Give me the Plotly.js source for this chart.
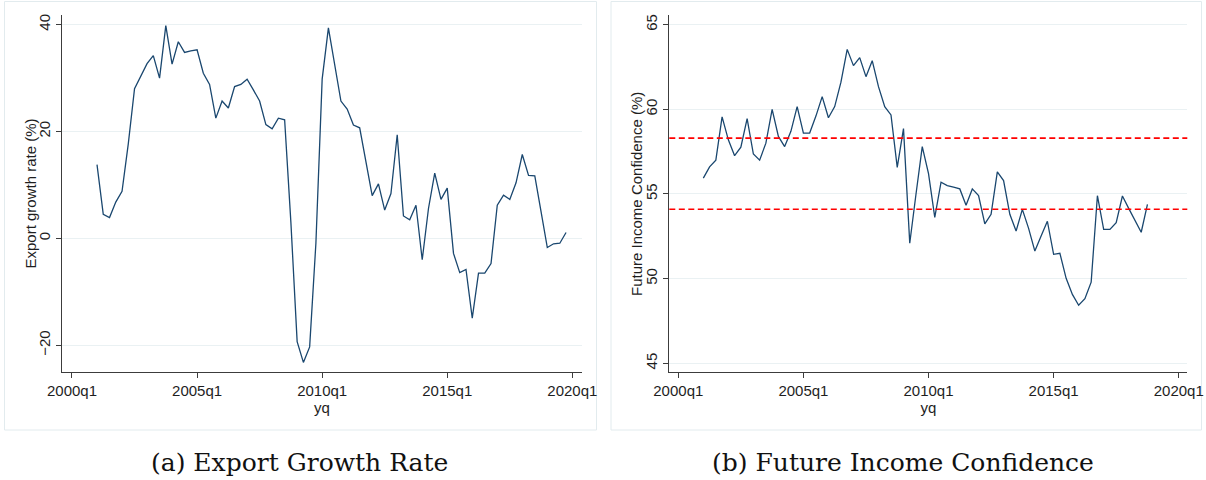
<!DOCTYPE html>
<html>
<head>
<meta charset="utf-8">
<script src="https://cdn.plot.ly/plotly-3.0.1.min.js"></script>
<style>html,body{margin:0;padding:0;background:#fff;}#chart{width:1206px;height:480px;}</style>
</head>
<body>
<div id="chart"></div>
<script>
// ---- Data ----
const exportQuarters = [
 "2001q1","2001q2","2001q3","2001q4","2002q1","2002q2","2002q3","2002q4",
 "2003q1","2003q2","2003q3","2003q4","2004q1","2004q2","2004q3","2004q4",
 "2005q1","2005q2","2005q3","2005q4","2006q1","2006q2","2006q3","2006q4",
 "2007q1","2007q2","2007q3","2007q4","2008q1","2008q2","2008q3","2008q4",
 "2009q1","2009q2","2009q3","2009q4","2010q1","2010q2","2010q3","2010q4",
 "2011q1","2011q2","2011q3","2011q4","2012q1","2012q2","2012q3","2012q4",
 "2013q1","2013q2","2013q3","2013q4","2014q1","2014q2","2014q3","2014q4",
 "2015q1","2015q2","2015q3","2015q4","2016q1","2016q2","2016q3","2016q4",
 "2017q1","2017q2","2017q3","2017q4","2018q1","2018q2","2018q3","2018q4",
 "2019q1","2019q2","2019q3","2019q4"
];
const exportGrowth = [
 13.8, 4.5, 3.9, 6.8, 8.8, 17.7, 28.0, 30.4,
 32.7, 34.2, 30.0, 39.8, 32.6, 36.8, 34.8, 35.1,
 35.3, 30.9, 28.8, 22.5, 25.7, 24.4, 28.4, 28.8,
 29.8, 27.8, 25.7, 21.3, 20.5, 22.5, 22.2, 3.0,
 -19.3, -23.2, -20.3, -0.9, 29.8, 39.4, 32.6, 25.7,
 24.2, 21.2, 20.7, 14.6, 8.0, 10.2, 5.3, 8.4,
 19.4, 4.2, 3.5, 6.2, -4.0, 5.6, 12.2, 7.3,
 9.4, -2.8, -6.4, -5.8, -14.9, -6.5, -6.5, -4.7,
 6.2, 8.1, 7.3, 10.4, 15.7, 11.8, 11.7, 5.0,
 -1.7, -1.0, -0.9, 1.1
];
const incomeQuarters = [
 "2001q1","2001q2","2001q3","2001q4","2002q1","2002q2","2002q3","2002q4",
 "2003q1","2003q2","2003q3","2003q4","2004q1","2004q2","2004q3","2004q4",
 "2005q1","2005q2","2005q3","2005q4","2006q1","2006q2","2006q3","2006q4",
 "2007q1","2007q2","2007q3","2007q4","2008q1","2008q2","2008q3","2008q4",
 "2009q1","2009q2","2009q3","2009q4","2010q1","2010q2","2010q3","2010q4",
 "2011q1","2011q2","2011q3","2011q4","2012q1","2012q2","2012q3","2012q4",
 "2013q1","2013q2","2013q3","2013q4","2014q1","2014q2","2014q3","2014q4",
 "2015q1","2015q2","2015q3","2015q4","2016q1","2016q2","2016q3","2016q4",
 "2017q1","2017q2","2017q3","2017q4","2018q1","2018q2","2018q3","2018q4"
];
const incomeConfidence = [
 55.94, 56.6, 57.0, 59.55, 58.2, 57.26, 57.76, 59.45,
 57.36, 57.0, 58.0, 60.0, 58.4, 57.8, 58.7, 60.16,
 58.6, 58.6, 59.6, 60.75, 59.5, 60.16, 61.6, 63.54,
 62.58, 63.05, 61.93, 62.87, 61.34, 60.16, 59.67, 56.57,
 58.86, 52.09, 55.0, 57.8, 56.2, 53.62, 55.7, 55.5,
 55.4, 55.3, 54.33, 55.3, 54.9, 53.23, 53.8, 56.3,
 55.79, 53.8, 52.81, 54.09, 52.97, 51.63, 52.52, 53.39,
 51.44, 51.5, 50.02, 49.07, 48.43, 48.82, 49.79, 54.9,
 52.91, 52.91, 53.31, 54.88, 54.15, 53.46, 52.74, 54.39
];
const incomeReferenceLines = [58.3, 54.1];
const xTickLabels = ["2000q1","2005q1","2010q1","2015q1","2020q1"];
const exportYTicks = [-20, 0, 20, 40];
const incomeYTicks = [45, 50, 55, 60, 65];
const captions = ["(a) Export Growth Rate", "(b) Future Income Confidence"];
const yTitles = ["Export growth rate (%)", "Future Income Confidence (%)"];
const xTitle = "yq";

// ---- Helpers ----
const qIndex = s => (parseInt(s.slice(0,4),10) - 2000) * 4 + parseInt(s.slice(5),10) - 1;
const W = 1206, H = 480;
const px = v => v / W;
const py = v => 1 - v / H;

const lineColor = "#1a476f";
const axisColor = "#3c3c3c";
const gridColor = "#eaf1f3";
const tickFont = {family: "Liberation Sans, Arial, sans-serif", size: 15, color: "#1e1e1e"};

const traces = [
 {x: exportQuarters.map(qIndex), y: exportGrowth, type: "scatter", mode: "lines",
  line: {color: lineColor, width: 1.3}, xaxis: "x", yaxis: "y", hoverinfo: "skip"},
 {x: incomeQuarters.map(qIndex), y: incomeConfidence, type: "scatter", mode: "lines",
  line: {color: lineColor, width: 1.3}, xaxis: "x2", yaxis: "y2", hoverinfo: "skip"}
];

function xAxis(domain, range) {
  return {
    domain: domain, range: range, tickvals: xTickLabels.map(qIndex), ticktext: xTickLabels,
    showline: true, linecolor: axisColor, linewidth: 1, ticks: "outside", ticklen: 5,
    tickcolor: axisColor, tickwidth: 1, showgrid: false, zeroline: false,
    tickfont: tickFont, fixedrange: true,
    title: {text: xTitle, font: tickFont, standoff: 3}
  };
}
function yAxis(domain, range, ticks) {
  return {
    domain: domain, range: range, tickvals: ticks, tickangle: -90,
    showline: true, linecolor: axisColor, linewidth: 1, ticks: "outside", ticklen: 5,
    tickcolor: axisColor, tickwidth: 1, showgrid: true, gridcolor: gridColor, gridwidth: 1,
    zeroline: false, tickfont: tickFont, fixedrange: true
  };
}

const yDom = [py(372.3), py(15)];
const layout = {
  width: W, height: H,
  margin: {l: 0, r: 0, t: 0, b: 0},
  paper_bgcolor: "#fff", plot_bgcolor: "#fff",
  showlegend: false,
  xaxis: Object.assign(xAxis([px(62.3), px(581.7)], [-1.55, 81.5]), {anchor: "y"}),
  yaxis: Object.assign(yAxis(yDom, [-25.05, 41.8], exportYTicks), {anchor: "x"}),
  xaxis2: Object.assign(xAxis([px(669.3), px(1187.3)], [-1.44, 81.37]), {anchor: "y2"}),
  yaxis2: Object.assign(yAxis(yDom, [44.47, 65.57], incomeYTicks), {anchor: "x2"}),
  shapes: [
    {type: "rect", xref: "paper", yref: "paper", x0: px(4.5), x1: px(596.5), y0: py(430), y1: py(1.5),
     line: {color: "#e2ebee", width: 1}, layer: "below"},
    {type: "rect", xref: "paper", yref: "paper", x0: px(611), x1: px(1201.5), y0: py(430), y1: py(1.5),
     line: {color: "#e2ebee", width: 1}, layer: "below"}
  ].concat(incomeReferenceLines.map(v => ({
    type: "line", xref: "x2 domain", yref: "y2", x0: 0, x1: 1, y0: v, y1: v,
    line: {color: "#ff0000", width: 1.6, dash: "6px,3.5px"}
  }))),
  annotations: [
    {text: yTitles[0], xref: "paper", yref: "paper", x: px(29.5), y: py(194),
     xanchor: "center", yanchor: "middle", textangle: -90, showarrow: false, font: tickFont},
    {text: yTitles[1], xref: "paper", yref: "paper", x: px(636), y: py(194),
     xanchor: "center", yanchor: "middle", textangle: -90, showarrow: false, font: tickFont},
    {text: captions[0], xref: "paper", yref: "paper", x: px(299), y: py(462),
     xanchor: "center", yanchor: "middle", showarrow: false,
     font: {family: "DejaVu Serif, serif", size: 25, color: "#111"}},
    {text: captions[1], xref: "paper", yref: "paper", x: px(903.5), y: py(462),
     xanchor: "center", yanchor: "middle", showarrow: false,
     font: {family: "DejaVu Serif, serif", size: 25, color: "#111"}}
  ]
};

Plotly.newPlot("chart", traces, layout, {staticPlot: true, displayModeBar: false});
</script>
</body>
</html>
